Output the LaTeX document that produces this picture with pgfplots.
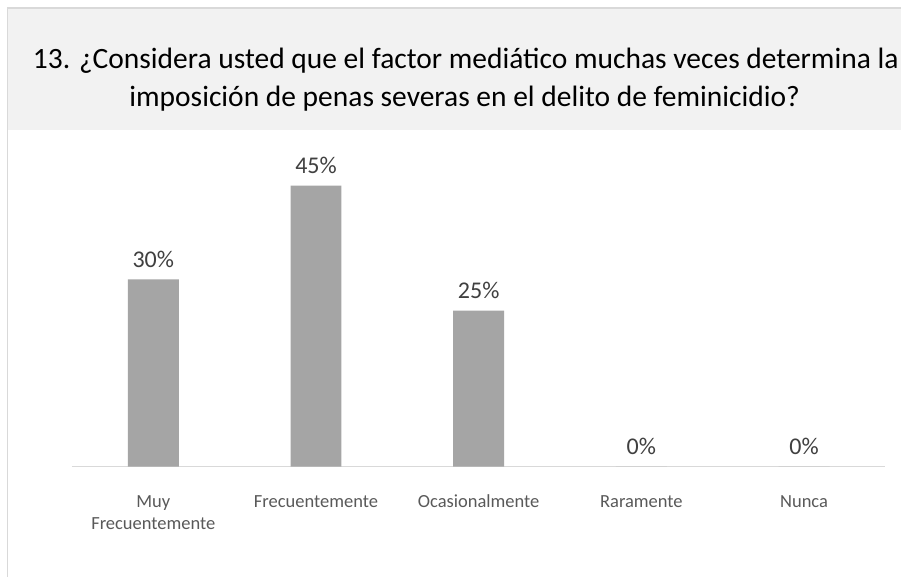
\documentclass[border=0pt]{standalone}
\usepackage{fontspec}
\setmainfont{Carlito}
\usepackage{pgfplots}
\pgfplotsset{compat=1.18}
\definecolor{barfill}{HTML}{A5A5A5}
\definecolor{gridc}{HTML}{D9D9D9}
\definecolor{band}{HTML}{F2F2F2}
\definecolor{labc}{HTML}{595959}
\definecolor{datc}{HTML}{404040}

\begin{document}
\begin{tikzpicture}[x=1bp,y=1bp]
% canvas and chart frame
\path[fill=white] (0,0) rectangle (902,577);
\fill[band] (8.5,446.5) rectangle (902,568.5);
\draw[gridc, line width=1.2bp] (7.8,0) -- (7.8,569) -- (902,569);
\node[font=\fontsize{29.5bp}{38bp}\selectfont, anchor=base, text=black] at (466,508)
  {13. ¿Considera usted que el factor mediático muchas veces determina la};
\node[font=\fontsize{29.5bp}{38bp}\selectfont, anchor=base, text=black] at (465,470)
  {imposición de penas severas en el delito de feminicidio?};
\begin{axis}[
  at={(72bp,110bp)}, anchor=south west,
  scale only axis,
  width=814bp, height=312.5bp,
  xmin=-0.5, xmax=4.5,
  ymin=0, ymax=50,
  axis x line*=bottom,
  axis y line=none,
  x axis line style={gridc, line width=1.2bp},
  xtick=data,
  xticklabels={{\strut Muy\\Frecuentemente},{\strut Frecuentemente},
    {\strut Ocasionalmente},{\strut Raramente},{\strut Nunca}},
  xtick style={draw=none},
  xticklabel style={align=center, anchor=north, inner sep=0pt, text=labc,
    font=\fontsize{18.5bp}{22bp}\selectfont, yshift=-20.6bp},
  ybar, bar width=51bp,
  nodes near coords={\pgfmathprintnumber{\pgfplotspointmeta}\%},
  nodes near coords style={text=datc, font=\fontsize{24bp}{28bp}\selectfont,
    anchor=base, yshift=12bp},
  /pgf/number format/assume math mode=true,
  clip=false,
]
\addplot[fill=barfill, draw=none] coordinates {(0,30) (1,45) (2,25) (3,0) (4,0)};
\end{axis}
\end{tikzpicture}
\end{document}
